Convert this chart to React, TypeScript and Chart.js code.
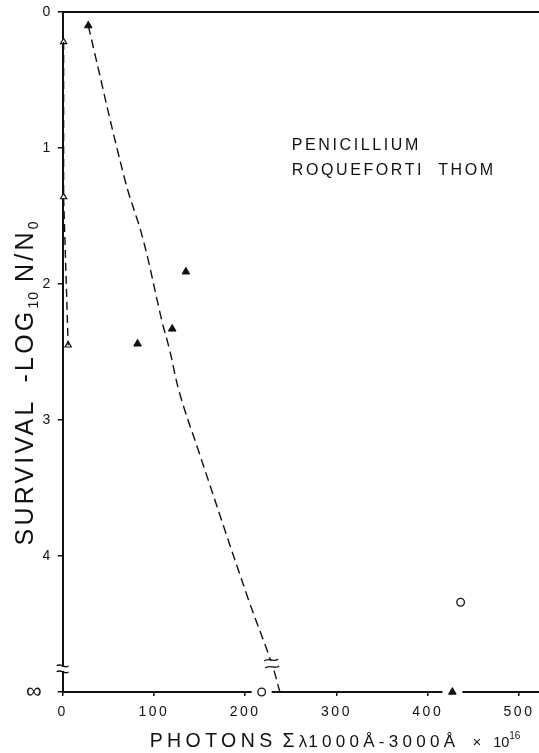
import React, { useEffect, useRef } from 'react';
import { Chart, registerables } from 'chart.js';

Chart.register(...registerables);

// ---- data ----
const xTickValues = [0, 100, 200, 300, 400, 500];
const yTickValues = [0, 1, 2, 3, 4, 5];
const yTickLabels = ['0', '1', '2', '3', '4', '∞ '];

const openTriX = [1, 1, 6];
const openTriY = [0.22, 1.36, 2.45];

const filledTriX = [28, 82, 120, 135, 427];
const filledTriY = [0.1, 2.44, 2.33, 1.91, 5];

const circleX = [436, 218];
const circleY = [4.34, 5];

const nearCurveX = [1, 1, 6];
const nearCurveY = [0.22, 1.36, 2.45];

const curveX = [28, 68, 88, 109, 117, 128, 148, 203, 229, 238];
const curveY = [0.1, 1.23, 1.67, 2.28, 2.48, 2.8, 3.21, 4.31, 4.79, 5];

const annotationLines = ['PENICILLIUM', 'ROQUEFORTI  THOM'];
const annotationAt = { x: 251, y: 1.015 };

const axisBreakValue = 4.83;
const curveBreakAt = { x: 229, y: 4.79 };
const infinityValue = 5;

const X_MAX = 521.9;

const FONT = '"Liberation Sans", Arial, sans-serif';
const INK = '#111';

type Seg = { t: string; size: number; sp: number; dy?: number; gap?: number };

const xTitleSegs: Seg[] = [
  { t: 'PHOTONS', size: 19.5, sp: 4.4, gap: 6 },
  { t: 'Σ', size: 19.5, sp: 1, gap: 3 },
  { t: 'λ', size: 17, sp: 1 },
  { t: '1000Å-3000Å', size: 17, sp: 4.3, gap: 13 },
  { t: '×', size: 15, sp: 0, gap: 12 },
  { t: '10', size: 14.5, sp: 0 },
  { t: '16', size: 10, sp: 0, dy: -8 },
];

const yTitleSegs: Seg[] = [
  { t: 'SURVIVAL', size: 25, sp: 3.2, gap: 16 },
  { t: '-LOG', size: 25, sp: 3.2 },
  { t: '10', size: 14, sp: 1, dy: 5, gap: 9 },
  { t: 'N/N', size: 25, sp: 3.2 },
  { t: '0', size: 14, sp: 1, dy: 5 },
];

function pts(xs: number[], ys: number[]) {
  return xs.map((x, i) => ({ x, y: ys[i] }));
}

function segWidth(ctx: CanvasRenderingContext2D, segs: Seg[]) {
  let w = 0;
  for (const s of segs) {
    ctx.font = `${s.size}px ${FONT}`;
    (ctx as any).letterSpacing = `${s.sp}px`;
    w += ctx.measureText(s.t).width + (s.gap || 0);
  }
  return w;
}

function drawSegs(ctx: CanvasRenderingContext2D, segs: Seg[], x: number, y: number) {
  let cx = x;
  for (const s of segs) {
    ctx.font = `${s.size}px ${FONT}`;
    (ctx as any).letterSpacing = `${s.sp}px`;
    ctx.fillText(s.t, cx, y + (s.dy || 0));
    cx += ctx.measureText(s.t).width + (s.gap || 0);
  }
}

function tilde(ctx: CanvasRenderingContext2D, cx: number, cy: number, w: number, a: number) {
  ctx.beginPath();
  ctx.moveTo(cx - w / 2, cy);
  ctx.bezierCurveTo(cx - w / 6, cy - a * 1.6, cx + w / 6, cy + a * 1.6, cx + w / 2, cy);
  ctx.stroke();
}

function noPad(s: any) {
  s.paddingTop = 0;
  s.paddingBottom = 0;
  s.paddingLeft = 0;
  s.paddingRight = 0;
}

export default function App() {
  const ref = useRef<HTMLCanvasElement>(null);

  useEffect(() => {
    document.body.style.margin = '0';
    const canvas = ref.current!;

    const spacingPlugin = {
      id: 'spacing',
      beforeDraw(chart: any) {
        chart.ctx.letterSpacing = '2.5px';
      },
    };

    // white gaps in the bottom axis around markers that sit on it
    const haloPlugin = {
      id: 'halo',
      beforeDatasetsDraw(chart: any) {
        const ctx: CanvasRenderingContext2D = chart.ctx;
        ctx.save();
        ctx.fillStyle = '#fff';
        [3, 4].forEach((di) => {
          const meta = chart.getDatasetMeta(di);
          const data = chart.data.datasets[di].data as any[];
          meta.data.forEach((el: any, i: number) => {
            if (data[i].y === infinityValue) {
              ctx.fillRect(el.x - 10, el.y - 2.5, 20, 5);
            }
          });
        });
        ctx.restore();
      },
    };

    const decorPlugin = {
      id: 'decor',
      afterDraw(chart: any) {
        const ctx: CanvasRenderingContext2D = chart.ctx;
        const xs = chart.scales.x;
        const ys = chart.scales.y;
        ctx.save();
        ctx.fillStyle = INK;
        ctx.strokeStyle = INK;
        ctx.textBaseline = 'alphabetic';
        ctx.textAlign = 'left';

        // annotation
        ctx.font = `16px ${FONT}`;
        (ctx as any).letterSpacing = '2.6px';
        const ax = xs.getPixelForValue(annotationAt.x);
        const ay = ys.getPixelForValue(annotationAt.y);
        annotationLines.forEach((t, i) => ctx.fillText(t, ax, ay + i * 25));

        // x title
        drawSegs(ctx, xTitleSegs, chart.chartArea.left + 87, chart.chartArea.bottom + 55);

        // y title (rotated)
        const wY = segWidth(ctx, yTitleSegs);
        ctx.save();
        ctx.translate(33, 383);
        ctx.rotate(-Math.PI / 2);
        drawSegs(ctx, yTitleSegs, -wY / 2, 0);
        ctx.restore();

        // axis break on y axis
        ctx.lineWidth = 1.3;
        const bx = xs.left;
        const by = ys.getPixelForValue(axisBreakValue);
        ctx.fillStyle = '#fff';
        ctx.fillRect(bx - 3, by - 2, 6, 4);
        tilde(ctx, bx, by - 3, 12, 2.2);
        tilde(ctx, bx, by + 3, 12, 2.2);

        // break on curve
        const cx = xs.getPixelForValue(curveBreakAt.x);
        const cy = ys.getPixelForValue(curveBreakAt.y);
        ctx.fillRect(cx - 3, cy - 2.5, 6, 5);
        ctx.save();
        ctx.translate(cx, cy);
        ctx.rotate(-0.15);
        tilde(ctx, 0, -3.5, 14, 2.2);
        tilde(ctx, 0, 3.5, 14, 2.2);
        ctx.restore();

        ctx.restore();
      },
    };

    const chart = new Chart(canvas, {
      type: 'scatter',
      data: {
        datasets: [
          {
            label: 'near-axis curve',
            data: pts(nearCurveX, nearCurveY),
            showLine: true,
            borderColor: INK,
            borderWidth: 1.4,
            borderDash: [8, 5],
            pointRadius: 0,
            clip: false as any,
          },
          {
            label: 'curve',
            data: pts(curveX, curveY),
            showLine: true,
            tension: 0.4,
            borderColor: INK,
            borderWidth: 1.4,
            borderDash: [9, 5],
            pointRadius: 0,
            clip: false as any,
          },
          {
            label: 'open triangles',
            data: pts(openTriX, openTriY),
            pointStyle: 'triangle',
            pointRadius: 3.6,
            backgroundColor: '#fff',
            borderColor: INK,
            borderWidth: 1.2,
            clip: false as any,
          },
          {
            label: 'filled triangles',
            data: pts(filledTriX, filledTriY),
            pointStyle: 'triangle',
            pointRadius: 4.4,
            backgroundColor: INK,
            borderColor: INK,
            borderWidth: 1,
            clip: false as any,
          },
          {
            label: 'circles',
            data: pts(circleX, circleY),
            pointStyle: 'circle',
            pointRadius: 3.8,
            backgroundColor: '#fff',
            borderColor: INK,
            borderWidth: 1.3,
            clip: false as any,
          },
        ],
      },
      options: {
        animation: false,
        responsive: false,
        events: [],
        layout: { autoPadding: false, padding: { top: 12, left: 0, right: 0, bottom: 0 } },
        plugins: { legend: { display: false }, tooltip: { enabled: false } },
        scales: {
          x: {
            type: 'linear',
            position: 'bottom',
            min: 0,
            max: X_MAX,
            afterBuildTicks: (s: any) => {
              s.ticks = xTickValues.map((v) => ({ value: v }));
            },
            afterFit: (s: any) => {
              s.height = 61;
              noPad(s);
            },
            ticks: {
              font: { family: FONT, size: 14 },
              color: INK,
              padding: 8,
              maxRotation: 0,
              autoSkip: false,
            },
            grid: { drawOnChartArea: false, drawTicks: true, tickLength: 4, color: INK, lineWidth: 1.5 },
            border: { display: true, color: INK, width: 2 },
          },
          xTop: {
            type: 'linear',
            position: 'top',
            min: 0,
            max: X_MAX,
            ticks: { display: false },
            grid: { display: false },
            border: { display: true, color: INK, width: 2 },
            afterFit: (s: any) => {
              s.height = 0;
              noPad(s);
            },
          },
          y: {
            type: 'linear',
            reverse: true,
            min: 0,
            max: 5,
            afterBuildTicks: (s: any) => {
              s.ticks = yTickValues.map((v) => ({ value: v }));
            },
            afterFit: (s: any) => {
              s.width = 62.7;
              noPad(s);
            },
            ticks: {
              callback: (v: any) => {
                const i = yTickValues.indexOf(Number(v));
                return i >= 0 ? yTickLabels[i] : '';
              },
              font: (c: any) => ({ family: FONT, size: c.tick && c.tick.value === 5 ? 22 : 14 }),
              color: INK,
              padding: 5,
            },
            grid: { drawOnChartArea: false, drawTicks: true, tickLength: 5, color: INK, lineWidth: 1.5 },
            border: { display: true, color: INK, width: 2 },
          },
        },
      } as any,
      plugins: [spacingPlugin, haloPlugin, decorPlugin],
    });

    return () => chart.destroy();
  }, []);

  return (
    <div style={{ width: 539, height: 753, position: 'relative', background: '#fff' }}>
      <canvas ref={ref} width={539} height={753} style={{ display: 'block' }} />
    </div>
  );
}
